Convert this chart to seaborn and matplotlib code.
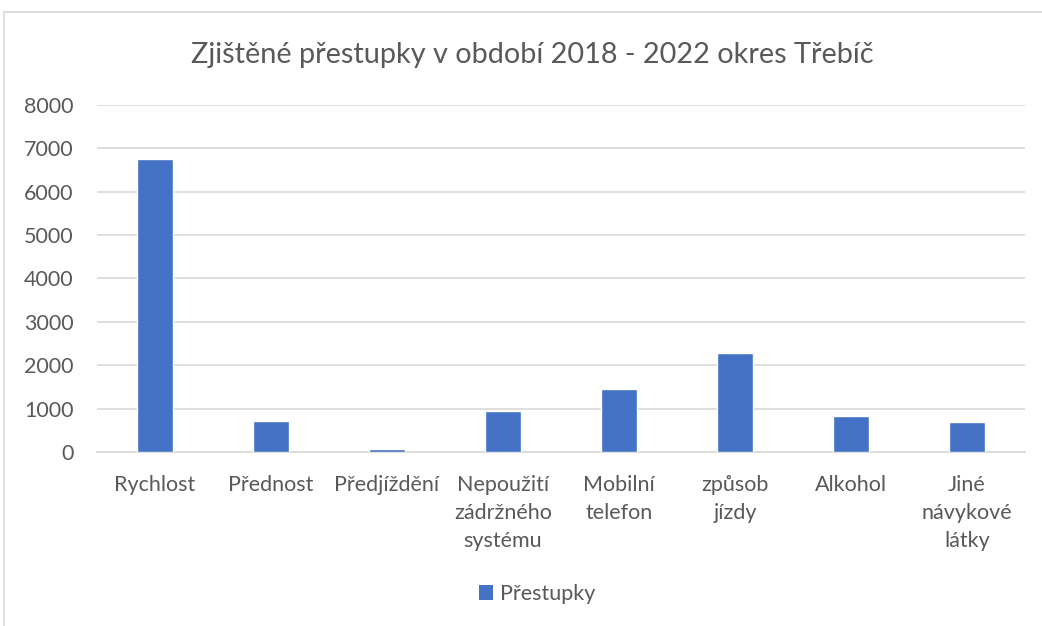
import matplotlib
matplotlib.use("Agg")
import matplotlib.pyplot as plt
import seaborn as sns
import pandas as pd
from matplotlib.patches import Rectangle, Patch

categories = ["Rychlost", "Přednost", "Předjíždění", "Nepoužití\nzádržného\nsystému",
              "Mobilní\ntelefon", "způsob\njízdy", "Alkohol", "Jiné\nnávykové\nlátky"]
values = [6740, 712, 65, 942, 1452, 2270, 828, 690]
series_name = "Přestupky"
title = "Zjištěné přestupky v období 2018 - 2022 okres Třebíč"
yticks = [0, 1000, 2000, 3000, 4000, 5000, 6000, 7000, 8000]

sns.set_theme(style="white")
plt.rcParams['font.family'] = ['Lato', 'DejaVu Sans']

df = pd.DataFrame({"cat": categories, "val": values, "series": series_name})

fig = plt.figure(figsize=(10.42, 6.26), dpi=100)
ax = fig.add_axes([97/1042, 1-452/626, (1025-97)/1042, (452-104.7)/626])

sns.barplot(data=df, x="cat", y="val", color="#4472C4", width=0.316,
            saturation=1, ax=ax, zorder=3)

ax.set_ylim(0, 8000)
ax.set_xlim(-0.5, len(categories) - 0.5)
ax.set_yticks(yticks)
ax.set_yticklabels([str(t) for t in yticks])
ax.yaxis.grid(True, color="#d9d9d9", linewidth=1.2, zorder=0)
ax.xaxis.grid(False)
for s in ["top", "right", "left"]:
    ax.spines[s].set_visible(False)
ax.spines["bottom"].set_color("#d9d9d9")
ax.spines["bottom"].set_linewidth(1.2)
ax.tick_params(axis="both", length=0, labelsize=15.5, labelcolor="#595959")
ax.tick_params(axis="y", pad=17)
ax.tick_params(axis="x", pad=16.5)
for lab in ax.get_xticklabels():
    lab.set_linespacing(1.5)
    lab.set_verticalalignment("top")
ax.set_xlabel("")
ax.set_ylabel("")

fig.text(532/1042, 1-55/626, title, ha="center", va="center", fontsize=20.8, color="#595959")

handles = [Patch(facecolor="#4472C4", edgecolor="none", label=series_name)]
fig.legend(handles=handles, loc="center", bbox_to_anchor=(537/1042, 1-594/626),
           frameon=False, fontsize=15.5, labelcolor="#595959",
           handlelength=0.65, handleheight=0.65, handletextpad=0.3)

fig.patches.append(Rectangle((4/1042, -0.1), 1.1, 1 - 12/626 + 0.1, transform=fig.transFigure,
                             fill=False, edgecolor="#d9d9d9", linewidth=1.2, zorder=0))

fig.savefig("out.png", dpi=100)
